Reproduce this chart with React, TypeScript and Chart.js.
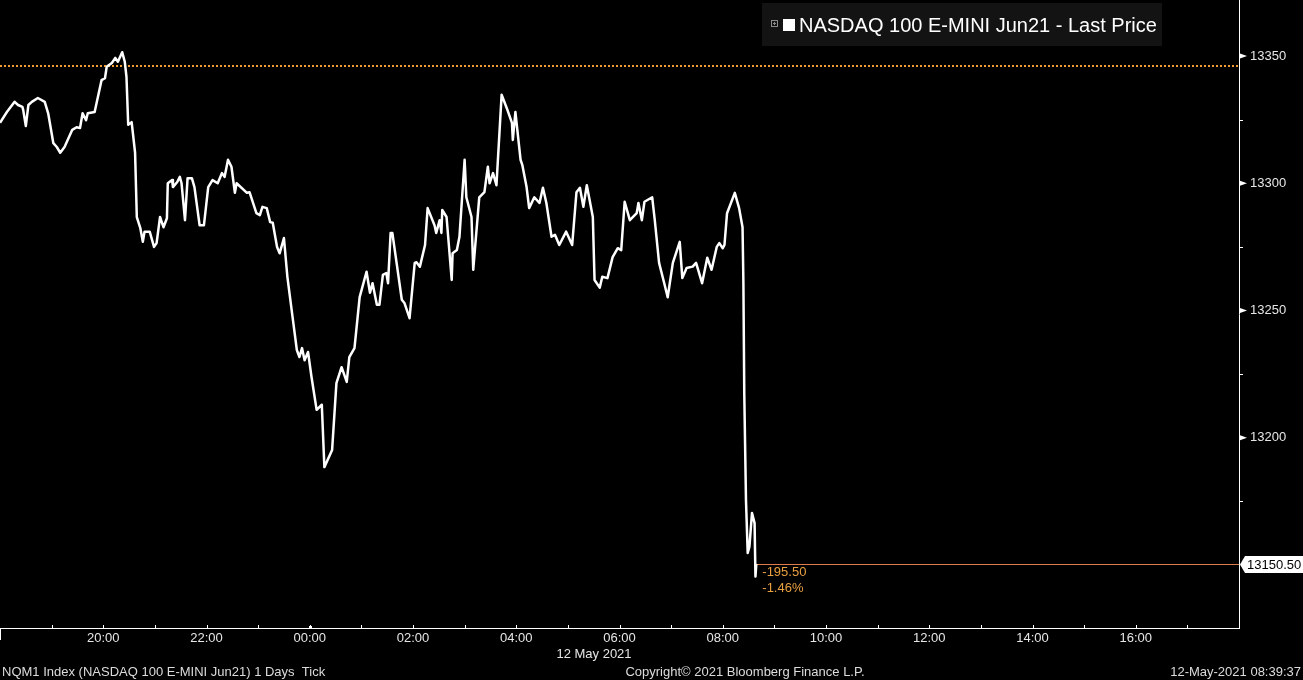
import React, { useEffect, useRef } from 'react';
import { Chart, registerables } from 'chart.js';

Chart.register(...registerables);

// minutes after 18:00 on 11 May 2021
const minutesAfter1800 = [
  0, 8, 17, 21, 26, 27, 30, 33, 37, 44,
  52, 56, 62, 66, 70, 75, 84, 89, 93, 96,
  100, 102, 110, 118, 122, 124, 130, 134, 137, 142,
  145, 147, 149, 153, 157, 159, 163, 166, 168, 174,
  179, 182, 186, 188, 190, 194, 195, 200, 201, 206,
  209, 211, 215, 218, 223, 226, 232, 237, 242, 247,
  253, 258, 261, 265, 269, 273, 275, 287, 290, 298,
  302, 305, 310, 314, 317, 322, 325, 330, 334, 340,
  345, 348, 351, 354, 358, 362, 368, 374, 377, 386,
  391, 397, 403, 406, 412, 418, 426, 430, 433, 438,
  441, 445, 449, 451, 454, 456, 467, 470, 476, 482,
  484, 488, 494, 497, 505, 507, 511, 513, 514, 519,
  525, 526, 531, 534, 540, 542, 548, 550, 557, 563,
  567, 569, 573, 577, 583, 589, 595, 596, 599, 605,
  607, 612, 615, 621, 627, 631, 635, 641, 645, 650,
  658, 665, 670, 674, 678, 682, 689, 691, 697, 700,
  706, 712, 718, 722, 726, 732, 740, 742, 746, 749,
  758, 761, 766, 772, 776, 782, 790, 793, 798, 805,
  809, 816, 822, 827, 833, 836, 840, 842, 845, 854,
  859, 863, 864, 865, 867, 869, 871, 874, 877, 878,
  879,
];

const lastPrices = [
  13323.75, 13328, 13332, 13330.75, 13330, 13328.75, 13322.5, 13330.75, 13332, 13333.5,
  13332, 13327.5, 13315.75, 13314.25, 13312, 13314.25, 13321, 13322, 13321.75, 13327.5,
  13324.75, 13327.5, 13328, 13340.5, 13341.25, 13345.75, 13347.25, 13349.25, 13347.75, 13351.5,
  13347.75, 13341.75, 13323, 13324, 13312, 13286.75, 13282.5, 13277, 13281, 13281,
  13275, 13276.5, 13286.75, 13284.75, 13282.75, 13286.25, 13300, 13301.25, 13298.5, 13300.5,
  13302.5, 13300, 13285.5, 13302, 13302, 13298.5, 13283.5, 13283.5, 13298.5, 13301.25,
  13300, 13304, 13302.5, 13309.25, 13306.5, 13296.25, 13300, 13296.25, 13296.5, 13288.25,
  13287.5, 13290.75, 13290.25, 13284.75, 13284.5, 13275, 13272.5, 13278.5, 13263.25, 13247.5,
  13234.5, 13231.75, 13235.25, 13230.5, 13233.75, 13224, 13211, 13213, 13188.5, 13195.25,
  13221.5, 13227.75, 13222, 13231.75, 13235.25, 13255.25, 13265.25, 13257, 13260.75, 13252.25,
  13252.25, 13264, 13264.75, 13260.75, 13280.5, 13280.5, 13254.25, 13253, 13247, 13268.75,
  13269, 13267.25, 13275.75, 13290.25, 13283.5, 13280.5, 13285.5, 13280.5, 13289.5, 13286.75,
  13262, 13272.5, 13273.75, 13279, 13309.25, 13294.5, 13286.75, 13266, 13294.5, 13296.5,
  13306.5, 13300, 13304, 13299.25, 13334.75, 13329.5, 13323.75, 13317, 13328, 13309.25,
  13307.25, 13298.5, 13290.25, 13294.5, 13292.25, 13298.25, 13292.25, 13279, 13279.75, 13275.75,
  13281, 13275.75, 13296.5, 13298.25, 13290.75, 13299.25, 13286.75, 13262, 13259, 13263.25,
  13262.75, 13271, 13274.5, 13273.75, 13292.75, 13285.5, 13288.25, 13292.25, 13285.5, 13292.75,
  13294.5, 13285.5, 13268.75, 13260.75, 13255.25, 13268.75, 13277, 13262.75, 13266.75, 13267.25,
  13268.75, 13260.75, 13270.75, 13266, 13275, 13276.5, 13274.5, 13275.75, 13288.25, 13296.25,
  13290.25, 13282.75, 13260.75, 13217.75, 13175.5, 13154.75, 13157.25, 13170.5, 13166.5, 13145.5,
  13150.5,
];

const xLabelMinutes = [120, 240, 360, 480, 600, 720, 840, 960, 1080, 1200, 1320];
const yLabelValues = [13200, 13250, 13300, 13350];
const yMinorValues = [13175, 13225, 13275, 13325];
const dayBoundaryMinute = 360;
const previousClose = 13346;
const lastPrice = 13150.5;
const netChange = -195.5;
const pctChange = -1.46;

const seriesName = 'NASDAQ 100 E-MINI Jun21 - Last Price';
const dateLabel = '12 May 2021';
const footerLeft = 'NQM1 Index (NASDAQ 100 E-MINI Jun21) 1 Days  Tick';
const footerCenter = 'Copyright\u00A9 2021 Bloomberg Finance L.P.';
const footerRight = '12-May-2021 08:39:37';

const FONT = "'Liberation Sans', Arial, sans-serif";
const W = 1303;
const H = 680;

function pad2(n: number) {
  return n < 10 ? '0' + n : String(n);
}
function fmtTime(m: number) {
  const t = (18 * 60 + Math.round(m)) % 1440;
  return pad2(Math.floor(t / 60)) + ':' + pad2(t % 60);
}

const overlayPlugin = {
  id: 'bbgOverlay',
  beforeDatasetsDraw(chart: any) {
    const { ctx, chartArea: a } = chart;
    const x = chart.scales.x;
    const y = chart.scales.y;
    ctx.save();
    // previous close dotted line
    const py = Math.round(y.getPixelForValue(previousClose));
    ctx.strokeStyle = '#f19a2e';
    ctx.lineWidth = 2;
    ctx.setLineDash([2, 2]);
    ctx.beginPath();
    ctx.moveTo(a.left, py);
    ctx.lineTo(a.right, py);
    ctx.stroke();
    // last price line
    ctx.setLineDash([]);
    ctx.lineWidth = 1;
    ctx.strokeStyle = '#dd7c4c';
    const ly = Math.round(y.getPixelForValue(lastPrice)) + 0.5;
    const lx = x.getPixelForValue(minutesAfter1800[minutesAfter1800.length - 1]);
    ctx.beginPath();
    ctx.moveTo(lx, ly);
    ctx.lineTo(a.right, ly);
    ctx.stroke();
    ctx.restore();
  },
  afterDraw(chart: any) {
    const { ctx, chartArea: a } = chart;
    const x = chart.scales.x;
    const y = chart.scales.y;
    ctx.save();
    ctx.fillStyle = '#ffffff';
    // y label pointers
    for (const v of yLabelValues) {
      const p = y.getPixelForValue(v);
      ctx.beginPath();
      ctx.moveTo(a.right + 1, p - 2.5);
      ctx.lineTo(a.right + 8, p);
      ctx.lineTo(a.right + 1, p + 2.5);
      ctx.closePath();
      ctx.fill();
    }
    for (const v of yMinorValues) {
      const p = Math.round(y.getPixelForValue(v));
      ctx.fillRect(a.right + 1, p, 3, 1);
    }
    // x hourly ticks
    for (let m = 60; m < 1440; m += 60) {
      const p = Math.round(x.getPixelForValue(m));
      ctx.fillRect(p, a.bottom - 3, 1, 3);
    }
    const dp = Math.round(x.getPixelForValue(dayBoundaryMinute));
    ctx.fillRect(dp - 1, a.bottom - 2, 3, 3);
    ctx.fillRect(a.left, a.bottom, 1, 12);

    // last price box
    const ly = Math.round(y.getPixelForValue(lastPrice)) + 0.5;
    ctx.beginPath();
    ctx.moveTo(a.right + 1, ly);
    ctx.lineTo(a.right + 6, ly - 8.5);
    ctx.lineTo(W, ly - 8.5);
    ctx.lineTo(W, ly + 8.5);
    ctx.lineTo(a.right + 6, ly + 8.5);
    ctx.closePath();
    ctx.fill();
    ctx.fillStyle = '#000000';
    ctx.font = `13px ${FONT}`;
    ctx.textAlign = 'left';
    ctx.textBaseline = 'middle';
    ctx.fillText(lastPrice.toFixed(2), a.right + 8, ly + 0.5);

    // change annotation
    const lx = x.getPixelForValue(minutesAfter1800[minutesAfter1800.length - 1]);
    ctx.fillStyle = '#e9a040';
    ctx.fillText('-' + Math.abs(netChange).toFixed(2), lx + 6, 572);
    ctx.fillText('-' + Math.abs(pctChange).toFixed(2) + '%', lx + 6, 588);

    // date label
    ctx.fillStyle = '#e6e6e6';
    ctx.textAlign = 'center';
    ctx.fillText(dateLabel, 594, 654);

    // footer
    ctx.fillStyle = '#dcdcdc';
    ctx.textAlign = 'left';
    ctx.fillText(footerLeft, 2, 672);
    ctx.textAlign = 'center';
    ctx.fillText(footerCenter, 745, 672);
    ctx.textAlign = 'right';
    ctx.fillText(footerRight, 1301, 672);

    // legend
    ctx.fillStyle = '#131313';
    ctx.fillRect(762, 3, 400, 43);
    ctx.strokeStyle = '#8a8a8a';
    ctx.lineWidth = 1;
    ctx.strokeRect(771.5, 20.5, 6, 6);
    ctx.fillStyle = '#8a8a8a';
    ctx.fillRect(773, 23, 3, 1);
    ctx.fillRect(774, 22, 1, 3);
    ctx.fillStyle = '#ffffff';
    ctx.fillRect(783, 19, 12, 12);
    ctx.font = `20px ${FONT}`;
    ctx.textAlign = 'left';
    ctx.textBaseline = 'middle';
    ctx.fillText(seriesName, 799, 26);
    ctx.restore();
  },
};

export default function App() {
  const ref = useRef<HTMLCanvasElement | null>(null);

  useEffect(() => {
    document.body.style.margin = '0';
    document.body.style.background = '#000';
    const canvas = ref.current;
    if (!canvas) return;
    const points = minutesAfter1800.map((m, i) => ({ x: m, y: lastPrices[i] }));
    const chart = new Chart(canvas, {
      type: 'line',
      data: {
        datasets: [
          {
            label: seriesName,
            data: points,
            borderColor: '#ffffff',
            borderWidth: 2.5,
            borderJoinStyle: 'round',
            pointRadius: 0,
            tension: 0,
            fill: false,
          },
        ],
      },
      options: {
        animation: false,
        responsive: false,
        devicePixelRatio: 1,
        layout: { padding: 0 },
        plugins: {
          legend: { display: false },
          tooltip: { enabled: false },
        },
        scales: {
          x: {
            type: 'linear',
            min: 0,
            max: 1440,
            position: 'bottom',
            grid: { display: false, drawTicks: false },
            border: { display: true, color: '#ffffff', width: 1 },
            afterBuildTicks: (s: any) => {
              s.ticks = xLabelMinutes.map((v) => ({ value: v }));
            },
            afterFit: (s: any) => {
              s.height = 52;
              s.paddingLeft = 0;
              s.paddingRight = 0;
            },
            ticks: {
              autoSkip: false,
              maxRotation: 0,
              padding: 3,
              color: '#e6e6e6',
              font: { family: FONT, size: 13 },
              callback: (v: any) => fmtTime(Number(v)),
            },
          },
          y: {
            type: 'linear',
            position: 'right',
            min: 13125.3,
            max: 13372,
            grid: { display: false, drawTicks: false },
            border: { display: true, color: '#ffffff', width: 1 },
            afterBuildTicks: (s: any) => {
              s.ticks = yLabelValues.map((v) => ({ value: v }));
            },
            afterFit: (s: any) => {
              s.width = W - 1239;
              s.paddingTop = 0;
              s.paddingBottom = 0;
            },
            ticks: {
              autoSkip: false,
              padding: 11,
              color: '#e6e6e6',
              font: { family: FONT, size: 13 },
              callback: (v: any) => String(v),
            },
          },
        },
      } as any,
      plugins: [overlayPlugin],
    });
    return () => chart.destroy();
  }, []);

  return (
    <div style={{ position: 'absolute', left: 0, top: 0, width: W, height: H, background: '#000' }}>
      <canvas ref={ref} width={W} height={H} style={{ display: 'block', width: W, height: H }} />
    </div>
  );
}
